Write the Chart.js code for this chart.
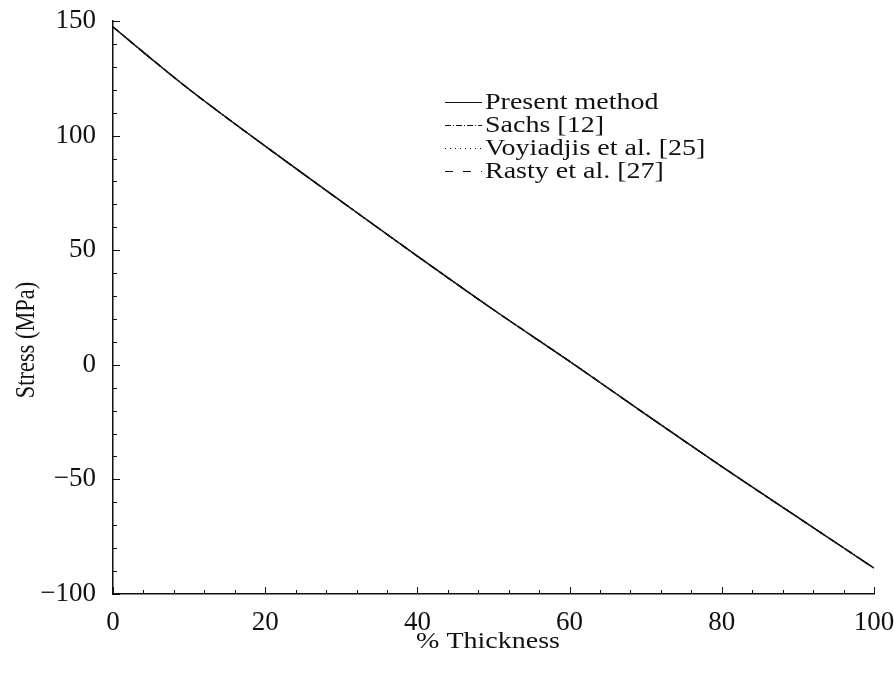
<!DOCTYPE html>
<html lang="en">
<head>
    <meta charset="UTF-8">
    <title>Stress vs thickness</title>
    <script src="https://cdn.jsdelivr.net/npm/chart.js@4.4.1/dist/chart.umd.min.js"></script>
    <style>
        html, body { margin: 0; padding: 0; background: #fff; }
        #wrap { width: 894px; height: 677px; }
    </style>
</head>
<body>
    <div id="wrap"><canvas id="myChart"></canvas></div>
    <script>
        // data
        var thickness = [0, 5, 10, 20, 30, 40, 50, 60, 70, 80, 90, 100];
        var presentMethod = [147.4, 133.6, 120.2, 95.4, 71.3, 47.4, 24.0, 1.5, -21.6, -44.4, -66.6, -88.7];
        // the other three curves lie on top of the present one
        var sachs = [147.4, 133.6, 120.2, 95.4, 71.3, 47.4, 24.0, 1.5, -21.6, -44.4, -66.6, -88.7];
        var voyiadjis = [147.4, 133.6, 120.2, 95.4, 71.3, 47.4, 24.0, 1.5, -21.6, -44.4, -66.6, -88.7];
        var rasty = [147.4, 133.6, 120.2, 95.4, 71.3, 47.4, 24.0, 1.5, -21.6, -44.4, -66.6, -88.7];
        var seriesNames = ['Present method', 'Sachs [12]', 'Voyiadjis et al. [25]', 'Rasty et al. [27]'];
        var xTitle = '% Thickness';
        var yTitle = 'Stress (MPa)';

        var FONT = '"Liberation Serif", "Times New Roman", serif';
        var INK = '#111';

        function pts(ys) {
            return thickness.map(function (x, i) { return { x: x, y: ys[i] }; });
        }

        // inward ticks (major + minor), legend and axis titles
        var extras = {
            id: 'extras',
            afterDraw: function (chart) {
                var ctx = chart.ctx, a = chart.chartArea;
                var xs = chart.scales.x, ys = chart.scales.y;
                ctx.save();
                ctx.strokeStyle = INK;
                ctx.lineWidth = 1;
                for (var v = 0; v <= 100; v += 4) {
                    var px = Math.round(xs.getPixelForValue(v)) + 0.5;
                    var len = (v % 20 === 0) ? 7 : 4;
                    ctx.beginPath();
                    ctx.moveTo(px, a.bottom);
                    ctx.lineTo(px, a.bottom - len);
                    ctx.stroke();
                }
                for (var w = -100; w <= 150; w += 10) {
                    var py = Math.round(ys.getPixelForValue(w)) + 0.5;
                    var l2 = (w % 50 === 0) ? 7 : 4;
                    ctx.beginPath();
                    ctx.moveTo(a.left, py);
                    ctx.lineTo(a.left + l2, py);
                    ctx.stroke();
                }

                // legend
                var rowY = [102, 125, 148, 171];
                chart.data.datasets.forEach(function (ds, i) {
                    var y = rowY[i] + 0.5;
                    ctx.setLineDash(ds.borderDash || []);
                    ctx.lineWidth = 1.2;
                    ctx.beginPath();
                    ctx.moveTo(445, y);
                    ctx.lineTo(482, y);
                    ctx.stroke();
                    ctx.setLineDash([]);
                    ctx.save();
                    ctx.translate(485, rowY[i] + 1);
                    ctx.scale(1, 0.8);
                    ctx.fillStyle = INK;
                    ctx.font = '28px ' + FONT;
                    ctx.textAlign = 'left';
                    ctx.textBaseline = 'middle';
                    ctx.fillText(ds.label, 0, 0);
                    ctx.restore();
                });

                // axis titles
                ctx.fillStyle = INK;
                ctx.font = '28px ' + FONT;
                ctx.textAlign = 'center';
                ctx.textBaseline = 'middle';
                ctx.save();
                ctx.translate(488, 642);
                ctx.scale(1, 0.8);
                ctx.fillText(xTitle, 0, 0);
                ctx.restore();
                ctx.save();
                ctx.translate(27, 340);
                ctx.scale(1, 0.8);
                ctx.rotate(-Math.PI / 2);
                ctx.fillText(yTitle, 0, 0);
                ctx.restore();
                ctx.restore();
            }
        };

        var ctx = document.getElementById('myChart').getContext('2d');
        var myChart = new Chart(ctx, {
            type: 'line',
            data: {
                datasets: [
                    { label: seriesNames[0], data: pts(presentMethod), borderDash: [], order: 0 },
                    { label: seriesNames[1], data: pts(sachs), borderDash: [6, 2, 1, 2], order: 1 },
                    { label: seriesNames[2], data: pts(voyiadjis), borderDash: [1, 4], order: 2 },
                    { label: seriesNames[3], data: pts(rasty), borderDash: [8, 10], order: 3 }
                ]
            },
            options: {
                responsive: true,
                maintainAspectRatio: false,
                animation: false,
                events: [],
                layout: { padding: { left: 0, right: 20, top: 21, bottom: 0 } },
                elements: {
                    point: { radius: 0 },
                    line: { borderColor: INK, borderWidth: 1.4, cubicInterpolationMode: 'monotone', fill: false }
                },
                plugins: {
                    legend: { display: false },
                    tooltip: { enabled: false }
                },
                scales: {
                    x: {
                        type: 'linear',
                        min: 0,
                        max: 100,
                        grid: { display: false },
                        border: { display: true, color: INK, width: 1.5 },
                        ticks: { stepSize: 20, color: INK, padding: 5, maxRotation: 0, font: { family: FONT, size: 27 } },
                        afterFit: function (s) { s.height = 83; s.paddingLeft = 0; s.paddingRight = 0; }
                    },
                    y: {
                        type: 'linear',
                        min: -100,
                        max: 150,
                        grid: { display: false },
                        border: { display: true, color: INK, width: 1.5 },
                        ticks: {
                            stepSize: 50, color: INK, padding: 9,
                            font: { family: FONT, size: 27 },
                            callback: function (v) { return String(v).replace('-', '\u2212'); }
                        },
                        afterFit: function (s) { s.width = 113; s.paddingTop = 0; s.paddingBottom = 0; }
                    }
                }
            },
            plugins: [extras]
        });
    </script>
</body>
</html>
